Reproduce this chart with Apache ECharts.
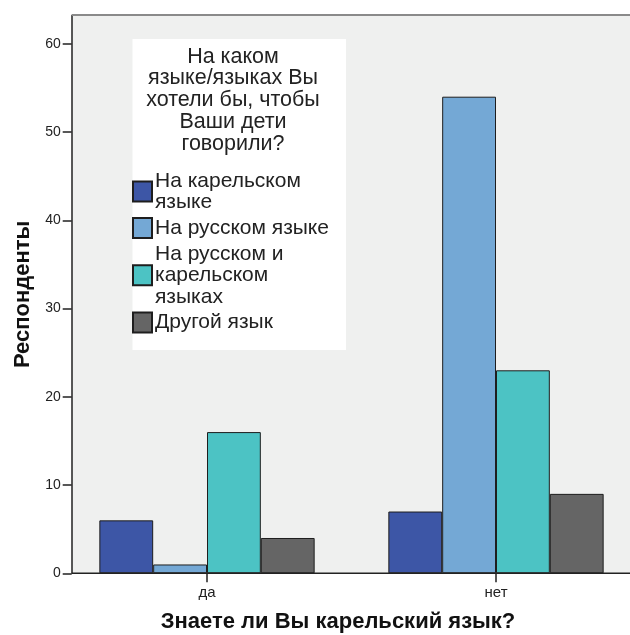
<!DOCTYPE html>
<html><head><meta charset="utf-8">
<script src="https://cdn.jsdelivr.net/npm/echarts@6/dist/echarts.min.js"></script>
<style>html,body{margin:0;padding:0;background:#fff}#c{width:630px;height:635px}</style>
</head><body><div id="c"></div>
<script>
const categories = ['да', 'нет'];
const seriesNames = ['На карельском\nязыке', 'На русском языке', 'На русском и\nкарельском\nязыках', 'Другой язык'];
const karelian = [6, 7];
const russian = [1, 54];
const russianKarelian = [16, 23];
const other = [4, 9];
const yTicks = [0, 10, 20, 30, 40, 50, 60];
const legendTitle = 'На каком\nязыке/языках Вы\nхотели бы, чтобы\nВаши дети\nговорили?';
const xTitle = 'Знаете ли Вы карельский язык?';
const yTitle = 'Респонденты';
const colors = ['#3d56a6', '#74a8d5', '#4cc3c4', '#656565'];
const values = [karelian, russian, russianKarelian, other];

const FONT = '"Liberation Sans", Arial, sans-serif';
const chart = echarts.init(document.getElementById('c'));
chart.setOption({
  animation: false,
  textStyle: { fontFamily: FONT },
  grid: { left: 62.5, width: 578, top: 15.5, height: 557.8, containLabel: false, outerBoundsMode: 'none' },
  graphic: [
    { type: 'rect', z: -10, shape: { x: 71.7, y: 15.5, width: 560, height: 557.8 }, style: { fill: '#eff0ef' }, silent: true },
    { type: 'line', z: 10, shape: { x1: 71.7, y1: 15, x2: 632, y2: 15 }, style: { stroke: '#8a8a8a', lineWidth: 2 }, silent: true },
    { type: 'rect', z: 5, shape: { x: 132.5, y: 39, width: 213.5, height: 311 }, style: { fill: '#ffffff' }, silent: true },
    { type: 'line', z: 10, shape: { x1: 71.7, y1: 573.3, x2: 632, y2: 573.3 }, style: { stroke: '#222', lineWidth: 1.5 }, silent: true }
  ],
  title: [
    { text: legendTitle, left: 233, top: 46, textAlign: 'center', padding: 0, z: 20,
      textStyle: { fontFamily: FONT, fontSize: 21.5, fontWeight: 'normal', color: '#222', lineHeight: 21.7 } },
    { text: xTitle, left: 338, top: 611, textAlign: 'center', padding: 0,
      textStyle: { fontFamily: FONT, fontSize: 22, fontWeight: 'bold', color: '#111' } }
  ],
  legend: {
    orient: 'vertical', left: 132, top: 170, padding: 0, itemGap: 4, z: 20,
    itemWidth: 19, itemHeight: 20, icon: 'rect',
    data: seriesNames,
    textStyle: { fontFamily: FONT, fontSize: 21, color: '#222', lineHeight: 21.5, padding: [0, 0, 0, -2] }
  },
  xAxis: {
    type: 'category', data: categories, boundaryGap: true,
    axisLine: { show: false },
    axisTick: { show: true, alignWithLabel: true, length: 9, inside: false, lineStyle: { color: '#222', width: 1.5 } },
    axisLabel: { color: '#222', fontSize: 15, margin: 12, fontFamily: FONT },
    splitLine: { show: false }
  },
  yAxis: {
    type: 'value', min: 0, max: 63.2, interval: 10, offset: -9.2,
    name: yTitle, nameLocation: 'middle', nameGap: 38,
    nameTextStyle: { fontFamily: FONT, fontSize: 22, fontWeight: 'bold', color: '#111' },
    axisLine: { show: true, lineStyle: { color: '#222', width: 1.5 } },
    axisTick: { show: true, length: 9, customValues: yTicks, lineStyle: { color: '#222', width: 1.5 } },
    axisLabel: { customValues: yTicks, color: '#222', fontSize: 14, margin: 11, fontFamily: FONT },
    splitLine: { show: false }
  },
  series: seriesNames.map((n, i) => ({
    name: n, type: 'bar', data: values[i], barGap: 0, barCategoryGap: '25.5%',
    itemStyle: { color: colors[i], borderColor: '#1e1e1e', borderWidth: 1 }
  }))
});
</script></body></html>
